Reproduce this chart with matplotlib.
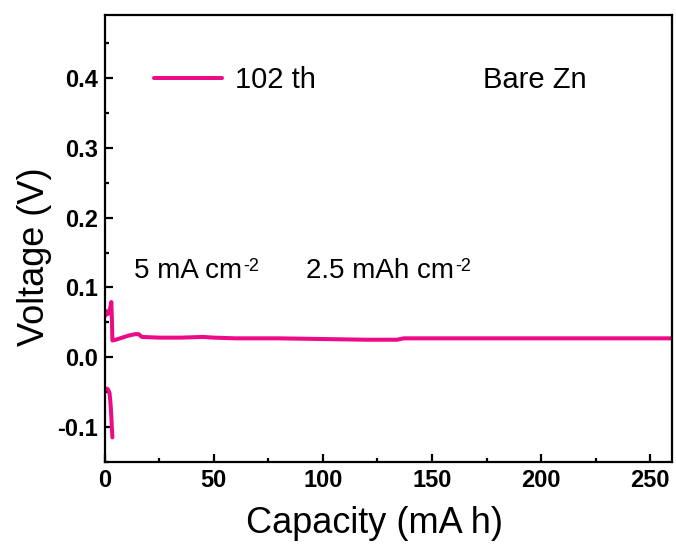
import matplotlib
matplotlib.use('Agg')
import matplotlib.pyplot as plt
from matplotlib.ticker import MultipleLocator, FormatStrFormatter

plt.rcParams['font.family'] = ['Liberation Sans', 'DejaVu Sans']

# 102nd cycle, bare Zn symmetric cell
# stripping branch (short, starts negative)
strip_cap = [1.0, 1.6, 2.2, 2.6, 3.0, 3.3, 3.5]
strip_v = [-0.045, -0.047, -0.052, -0.065, -0.085, -0.105, -0.115]
# plating branch
plate_cap = [0.4, 0.8, 1.2, 1.6, 2.2, 2.7, 3.0, 3.3, 3.5, 5, 8, 11, 14, 15.5, 17,
             25, 35, 45, 50, 60, 80, 100, 120, 134, 137, 160, 200, 230, 260]
plate_v = [0.060, 0.066, 0.064, 0.062, 0.066, 0.074, 0.079, 0.050, 0.024, 0.025, 0.028,
           0.031, 0.033, 0.033, 0.029, 0.028, 0.028, 0.029, 0.028, 0.027, 0.027, 0.026,
           0.025, 0.025, 0.027, 0.027, 0.027, 0.027, 0.027]

line_color = '#EC0A86'

fig = plt.figure(figsize=(6.76, 5.44), dpi=100, facecolor='white')
ax = fig.add_axes([0.155, 0.151, 0.839, 0.821])

ax.plot(plate_cap, plate_v, color=line_color, lw=2.9, solid_capstyle='round',
        solid_joinstyle='round', label='102 th')
ax.plot(strip_cap, strip_v, color=line_color, lw=2.9, solid_capstyle='round',
        solid_joinstyle='round')

ax.set_xlim(0, 260)
ax.set_ylim(-0.15, 0.49)
ax.xaxis.set_major_locator(MultipleLocator(50))
ax.xaxis.set_minor_locator(MultipleLocator(25))
ax.yaxis.set_major_locator(MultipleLocator(0.1))
ax.yaxis.set_minor_locator(MultipleLocator(0.05))
ax.yaxis.set_major_formatter(FormatStrFormatter('%.1f'))

ax.tick_params(which='major', direction='in', length=5.5, width=1.6,
               labelsize=17, pad=5, top=False, right=False)
ax.tick_params(which='minor', direction='in', length=3, width=1.6,
               top=False, right=False)
for lab in ax.get_xticklabels() + ax.get_yticklabels():
    lab.set_fontweight('bold')
for sp in ax.spines.values():
    sp.set_linewidth(1.6)

ax.set_xlabel('Capacity (mA h)', fontsize=26)
ax.set_ylabel('Voltage (V)', fontsize=26)
ax.xaxis.set_label_coords(0.476, -0.098)
ax.yaxis.set_label_coords(-0.093, 0.459)

ax.legend(loc='center left', bbox_to_anchor=(0.067, 0.855), frameon=False,
          fontsize=21, handlelength=2.3, handletextpad=0.45, borderaxespad=0)

ax.text(0.666, 0.856, 'Bare Zn', transform=ax.transAxes, fontsize=21,
        va='center')


def label_with_sup(x, y, base, sup):
    t = ax.text(x, y, base, transform=ax.transAxes, fontsize=20, va='baseline')
    ax.annotate(sup, xy=(1, 0), xycoords=t, xytext=(0.5, 9),
                textcoords='offset points', fontsize=13, va='baseline')


label_with_sup(0.052, 0.412, '5 mA cm', '-2')
label_with_sup(0.355, 0.412, '2.5 mAh cm', '-2')

fig.savefig('out.png', dpi=100, facecolor='white')
